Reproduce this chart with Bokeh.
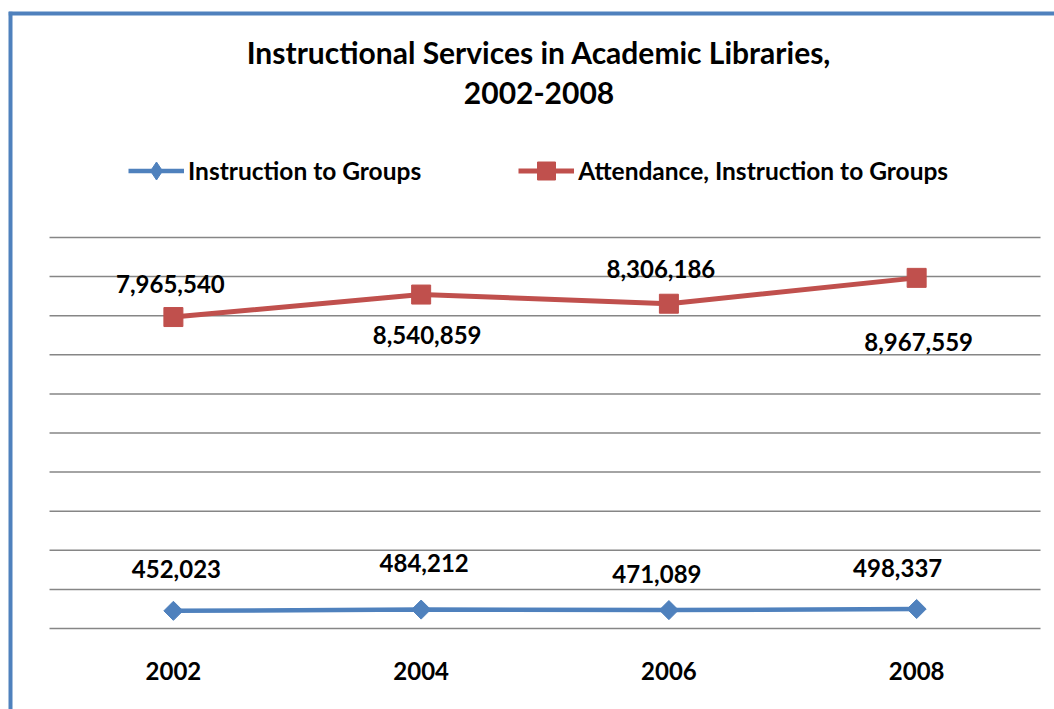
from bokeh.plotting import figure
from bokeh.models import Range1d, Legend, LegendItem, Span
from bokeh.core.properties import value
from bokeh.embed import file_html
from bokeh.resources import INLINE

# ---------------- data ----------------
years = [2002, 2004, 2006, 2008]
year_labels = ["2002", "2004", "2006", "2008"]
groups = [452023, 484212, 471089, 498337]
attendance = [7965540, 8540859, 8306186, 8967559]
series_names = ["Instruction to Groups", "Attendance, Instruction to Groups"]
title_lines = ["Instructional Services in Academic Libraries,", "2002-2008"]
grid_values = [0, 1000000, 2000000, 3000000, 4000000, 5000000,
               6000000, 7000000, 8000000, 9000000, 10000000]

# ---------------- style ----------------
BLUE = "#4F81BD"
RED = "#C0504D"
GRID = "#868686"
FONT = "Lato"

# label offsets in screen pixels (positive = down)
red_dx = [-3, 6, -8, 2]
red_dy = [-33, 40, -35, 64]
blue_dx = [3, 3, -12, -19]
blue_dy = [-42, -47, -36, -41]

x_range = Range1d(2000.6688, 2009.1128)
y_range = Range1d(-2071600, 15780000)

p = figure(width=1054, height=709, output_backend="svg", toolbar_location=None,
           x_range=x_range, y_range=y_range,
           x_axis_type=None, y_axis_type=None,
           min_border_left=8, min_border_top=11,
           min_border_right=0, min_border_bottom=0)
p.outline_line_color = None
p.background_fill_color = "white"
p.border_fill_color = "white"

# chart-area border (left and top edges)
p.add_layout(Span(location=x_range.start, dimension="height",
                  line_color=BLUE, line_width=8))
p.add_layout(Span(location=y_range.end, dimension="width",
                  line_color=BLUE, line_width=8))

# horizontal gridlines
p.segment(x0=years[0] - 1, x1=years[-1] + 1, y0=grid_values, y1=grid_values,
          line_color=GRID, line_width=1.5)

# series
bl = p.line(years, groups, line_color=BLUE, line_width=4.5)
bm = p.scatter(years, groups, marker="square", angle=0.785398, size=13.5,
               fill_color=BLUE, line_color=BLUE)
rl = p.line(years, attendance, line_color=RED, line_width=5)
rm = p.scatter(years, attendance, marker="square", size=19,
               fill_color=RED, line_color=RED)
# legend-only diamond marker (legend glyphs are drawn unrotated)
bleg = p.scatter(x=years[:1], y=groups[:1], marker="diamond", size=0,
                 fill_color=BLUE, line_color=BLUE)

common = dict(text_font=value(FONT), text_font_style="bold", text_font_size="24px",
              text_align="center", text_baseline="middle", text_color="black")

# data labels
p.text(x=years, y=attendance, text=[f"{v:,}" for v in attendance],
       x_offset=red_dx, y_offset=red_dy, **common)
p.text(x=years, y=groups, text=[f"{v:,}" for v in groups],
       x_offset=blue_dx, y_offset=blue_dy, **common)

# category labels
p.text(x=years, y=[grid_values[0]] * len(years), text=year_labels, y_offset=42, **common)

# title
p.text(x=[sum(years) / len(years)] * 2, y=[grid_values[-1]] * 2, text=title_lines,
       x_offset=-6, y_offset=[-185, -144],
       text_font=value(FONT), text_font_style="bold", text_font_size="30px",
       text_align="center", text_baseline="middle", text_color="black")

legend = Legend(items=[LegendItem(label=series_names[0], renderers=[bl, bleg]),
                       LegendItem(label=series_names[1], renderers=[rl, rm])],
                orientation="horizontal", location=(120, 516),
                glyph_width=56, glyph_height=45, label_standoff=4, spacing=97,
                padding=0, margin=0, border_line_color=None,
                background_fill_alpha=0,
                label_text_font=FONT, label_text_font_style="bold",
                label_text_font_size="24.5px", label_text_color="black")
p.add_layout(legend)

open("out.html", "w").write(file_html(p, INLINE))
